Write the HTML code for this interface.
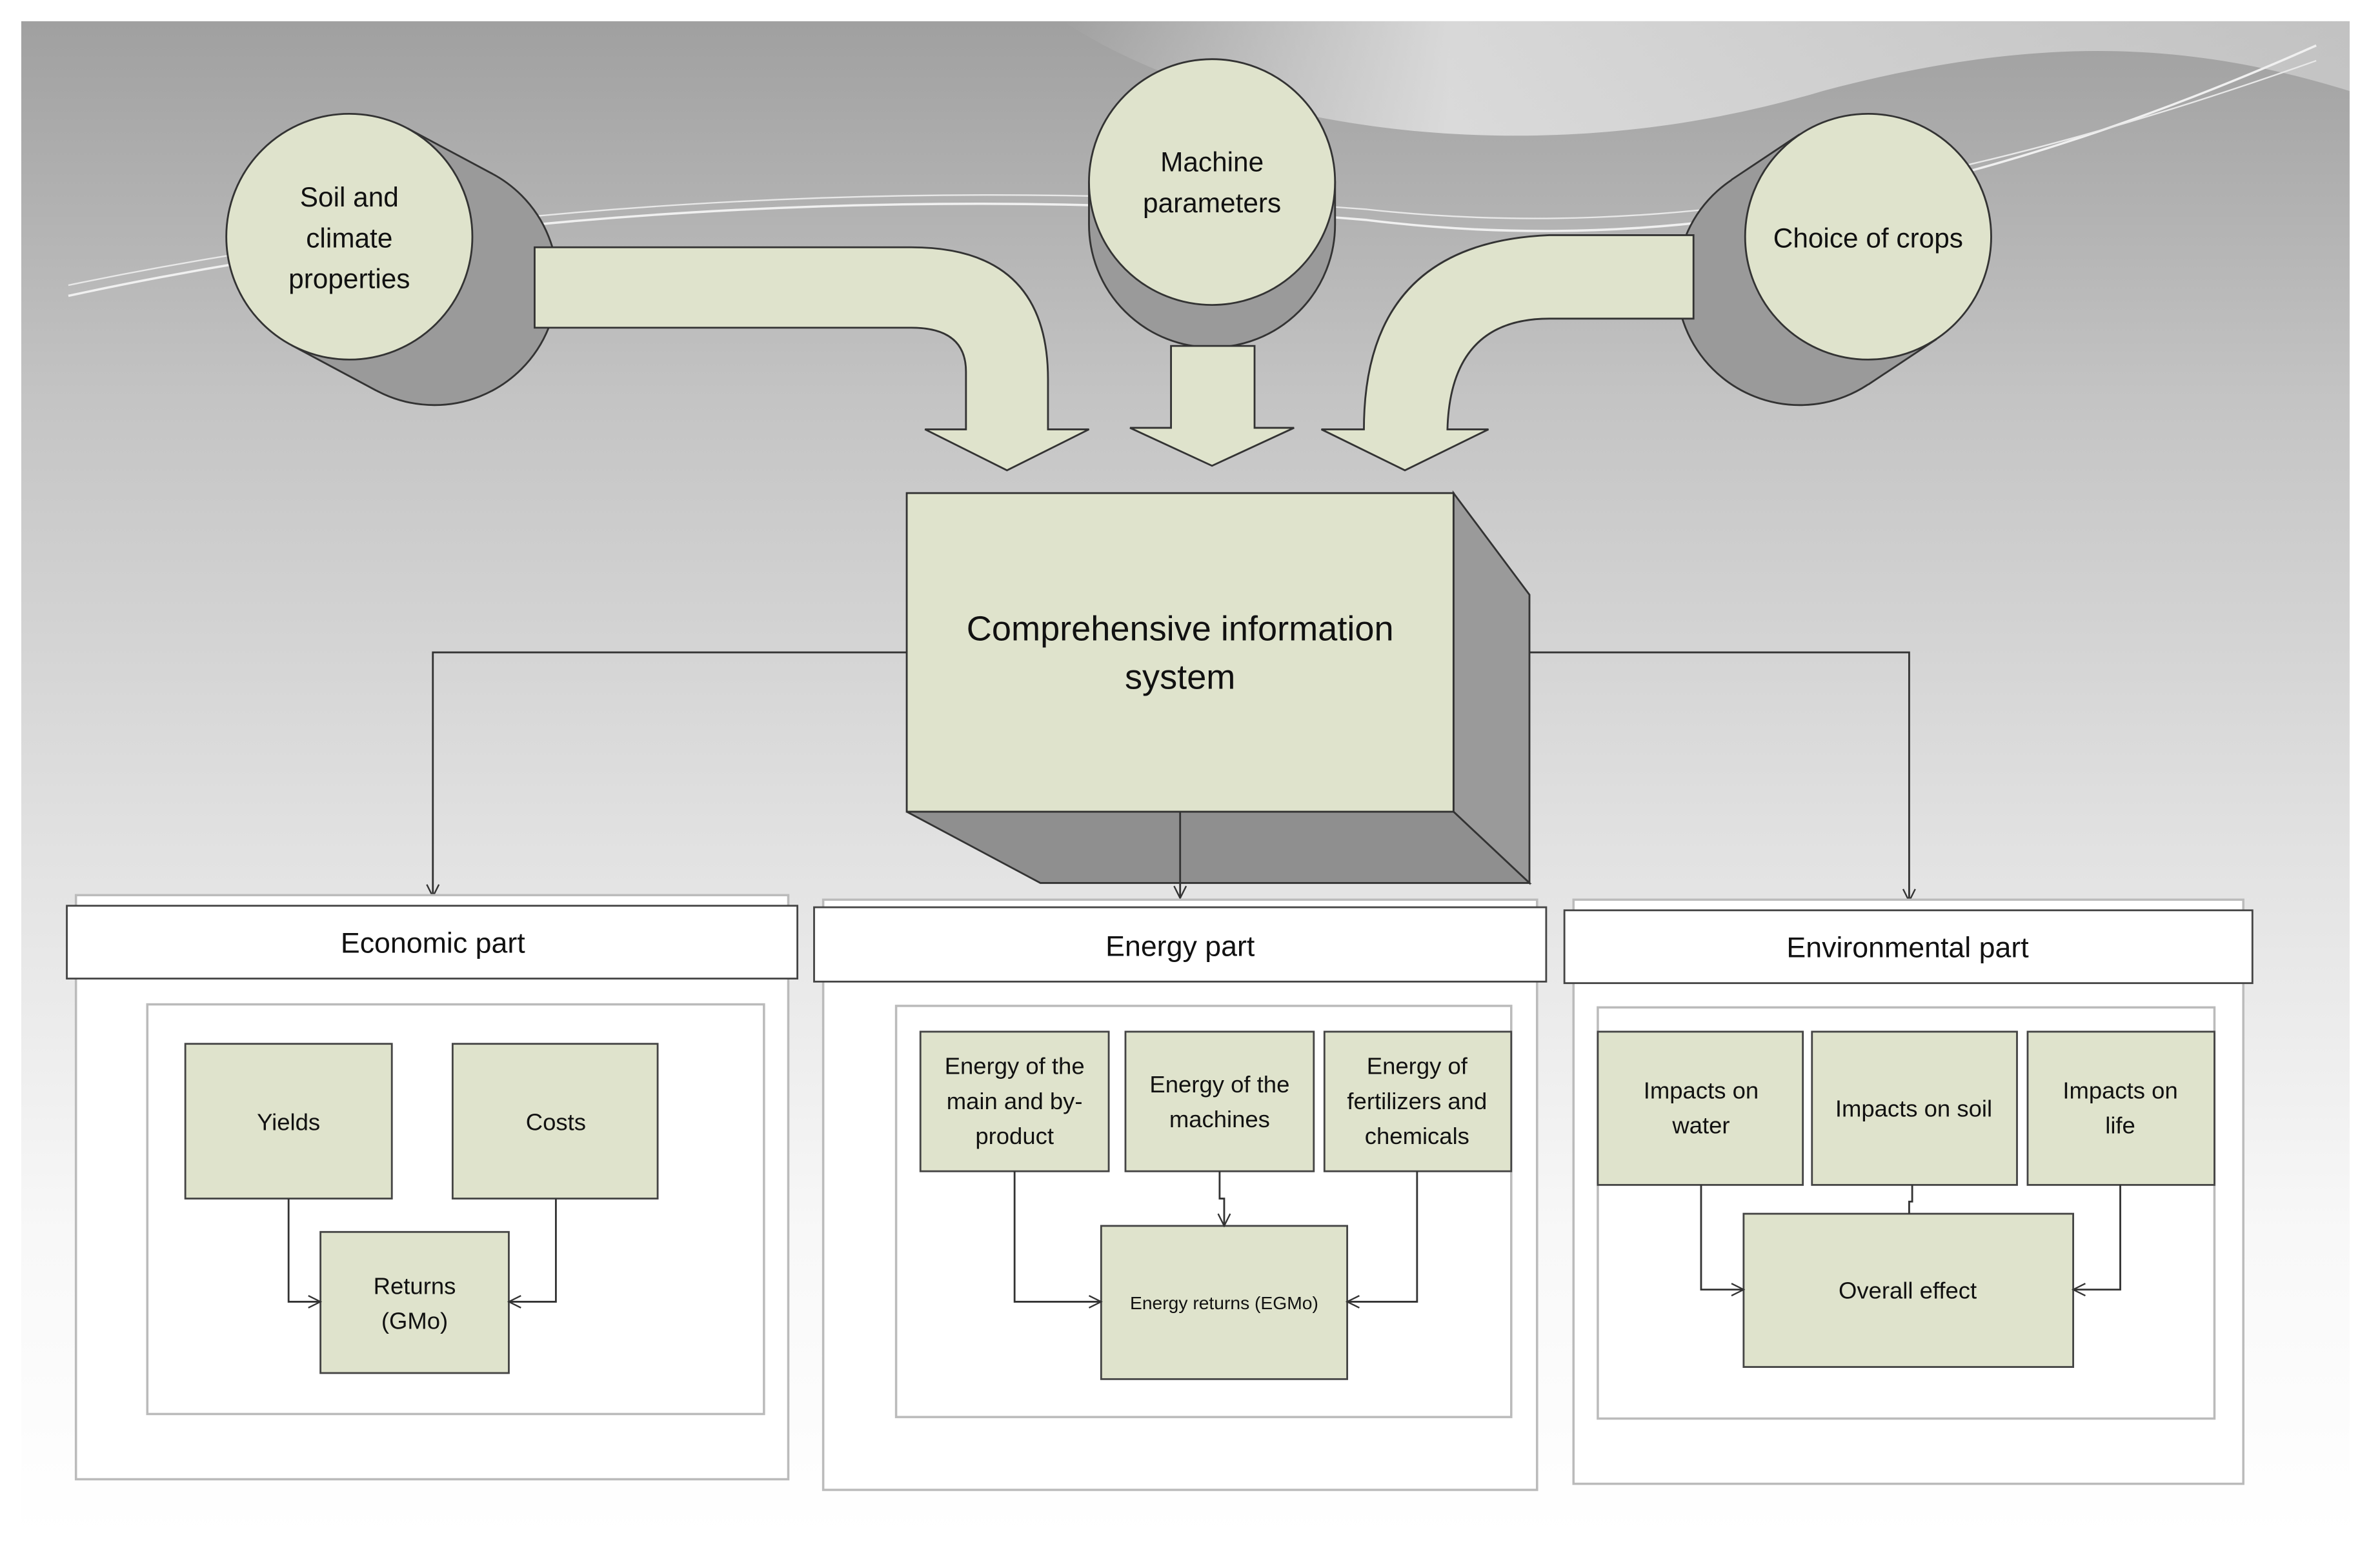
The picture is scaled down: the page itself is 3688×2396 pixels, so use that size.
<!DOCTYPE html>
<html><head><meta charset="utf-8"><style>
html,body{margin:0;padding:0;background:#fff}
svg{display:block}
text{font-family:"Liberation Sans",sans-serif;fill:#111}
</style></head><body>
<svg width="3688" height="2396" viewBox="0 0 1567 1019" preserveAspectRatio="none" xmlns="http://www.w3.org/2000/svg">
<defs>
<linearGradient id="bg" x1="0" y1="0" x2="0" y2="1">
<stop offset="0" stop-color="#a0a0a0"/>
<stop offset="0.25" stop-color="#c4c4c4"/>
<stop offset="0.55" stop-color="#e2e2e2"/>
<stop offset="0.8" stop-color="#f8f8f8"/>
<stop offset="1" stop-color="#ffffff"/>
</linearGradient>
<linearGradient id="wv" x1="0" y1="0" x2="1" y2="0">
<stop offset="0" stop-color="#e6e6e6" stop-opacity="0"/>
<stop offset="0.3" stop-color="#e6e6e6" stop-opacity="0.8"/>
<stop offset="1" stop-color="#d8d8d8" stop-opacity="0.6"/>
</linearGradient>
<marker id="ah" markerWidth="10" markerHeight="10" refX="9" refY="5" orient="auto" markerUnits="userSpaceOnUse">
<path d="M1,1 L9,5 L1,9" fill="none" stroke="#333" stroke-width="1"/>
</marker>
</defs>
<rect x="14" y="14" width="1533" height="999" fill="url(#bg)"/>
<path d="M700,14 C800,80 1000,120 1200,60 C1350,20 1450,30 1547,60 L1547,14 Z" fill="url(#wv)"/>
<path d="M45,195 C300,140 600,120 900,145 C1100,170 1300,130 1525,30" fill="none" stroke="#f0f0f0" stroke-width="1.5"/>
<path d="M45,188 C300,135 600,115 900,138 C1100,160 1300,120 1525,40" fill="none" stroke="#e8e8e8" stroke-width="1"/>

<!-- Soil cylinder -->
<g stroke="#333" stroke-width="1.2">
<circle cx="286" cy="186" r="81" fill="#9a9a9a"/>
<polygon points="191.7,227.4 268.3,84.6 324.3,114.6 247.7,257.4" fill="#9a9a9a" stroke="none"/>
<line x1="268.3" y1="84.6" x2="324.3" y2="114.6"/>
<line x1="191.7" y1="227.4" x2="247.7" y2="257.4"/>
<circle cx="230" cy="156" r="81" fill="#dfe3cc"/>
</g>
<text x="230" y="136" font-size="18" text-anchor="middle">Soil and</text>
<text x="230" y="163" font-size="18" text-anchor="middle">climate</text>
<text x="230" y="190" font-size="18" text-anchor="middle">properties</text>

<!-- Machine cylinder -->
<g stroke="#333" stroke-width="1.2">
<path d="M717,120 L717,148 A81,81 0 0 0 879,148 L879,120 Z" fill="#9a9a9a"/>
<circle cx="798" cy="120" r="81" fill="#dfe3cc"/>
</g>
<text x="798" y="113" font-size="18" text-anchor="middle">Machine</text>
<text x="798" y="140" font-size="18" text-anchor="middle">parameters</text>

<!-- Choice cylinder -->
<g stroke="#333" stroke-width="1.2">
<circle cx="1185" cy="186" r="81" fill="#9a9a9a"/>
<polygon points="1275,223.5 1185,88.5 1140,118.5 1230,253.5" fill="#9a9a9a" stroke="none"/>
<line x1="1185" y1="88.5" x2="1140" y2="118.5"/>
<line x1="1275" y1="223.5" x2="1230" y2="253.5"/>
<circle cx="1230" cy="156" r="81" fill="#dfe3cc"/>
</g>
<text x="1230" y="163" font-size="18" text-anchor="middle">Choice of crops</text>

<!-- Arrows -->
<g fill="#dfe3cc" stroke="#333" stroke-width="1.2">
<path d="M352,163 L600,163 Q690,163 690,250 L690,283 L717,283 L663,310 L609,283 L636,283 L636,245 Q636,216 600,216 L352,216 Z"/>
<path d="M771,228 L826,228 L826,282 L852,282 L798,307 L744,282 L771,282 Z"/>
<path d="M1115,155 L1020,155 Q898,160 898,283 L870,283 L925,310 L980,283 L953,283 Q955,210 1020,210 L1115,210 Z"/>
</g>

<!-- Connectors -->
<g stroke="#333" stroke-width="1.2" fill="none">
<path d="M597,430 L285,430 L285,591" marker-end="url(#ah)"/>
<path d="M957,430 L1257,430 L1257,594" marker-end="url(#ah)"/>
</g>

<!-- Main box -->
<g stroke="#333" stroke-width="1.2">
<path d="M957,325 L1007,392 L1007,582 L957,535 Z" fill="#9a9a9a"/>
<path d="M597,535 L685,582 L1007,582 L957,535 Z" fill="#8f8f8f"/>
<rect x="597" y="325" width="360" height="210" fill="#dfe3cc"/>
</g>
<path d="M777,535 L777,592" stroke="#333" stroke-width="1.2" fill="none" marker-end="url(#ah)"/>
<text x="777" y="422" font-size="23" text-anchor="middle">Comprehensive information</text>
<text x="777" y="454" font-size="23" text-anchor="middle">system</text>

<!-- Panels -->
<g fill="#fff" stroke="#bbb" stroke-width="1.5">
<rect x="50" y="590" width="469" height="385"/>
<rect x="542" y="593" width="470" height="389"/>
<rect x="1036" y="593" width="441" height="385"/>
</g>
<g fill="#fff" stroke="#444" stroke-width="1.2">
<rect x="44" y="597" width="481" height="48"/>
<rect x="536" y="598" width="482" height="49"/>
<rect x="1030" y="600" width="453" height="48"/>
</g>
<text x="285" y="628" font-size="19" text-anchor="middle">Economic part</text>
<text x="777" y="630" font-size="19" text-anchor="middle">Energy part</text>
<text x="1256" y="631" font-size="19" text-anchor="middle">Environmental part</text>
<g fill="#fff" stroke="#bbb" stroke-width="1.5">
<rect x="97" y="662" width="406" height="270"/>
<rect x="590" y="663" width="405" height="271"/>
<rect x="1052" y="664" width="406" height="271"/>
</g>

<g fill="#dfe3cc" stroke="#444" stroke-width="1.2">
<rect x="122" y="688" width="136" height="102"/>
<rect x="298" y="688" width="135" height="102"/>
<rect x="211" y="812" width="124" height="93"/>
<rect x="606" y="680" width="124" height="92"/>
<rect x="741" y="680" width="124" height="92"/>
<rect x="872" y="680" width="123" height="92"/>
<rect x="725" y="808" width="162" height="101"/>
<rect x="1052" y="680" width="135" height="101"/>
<rect x="1193" y="680" width="135" height="101"/>
<rect x="1335" y="680" width="123" height="101"/>
<rect x="1148" y="800" width="217" height="101"/>
</g>
<g stroke="#333" stroke-width="1.2" fill="none">
<path d="M190,790 L190,858 L211,858" marker-end="url(#ah)"/>
<path d="M366,790 L366,858 L335,858" marker-end="url(#ah)"/>
<path d="M668,772 L668,858 L725,858" marker-end="url(#ah)"/>
<path d="M803,772 L803,790 L806,790 L806,808" marker-end="url(#ah)"/>
<path d="M933,772 L933,858 L887,858" marker-end="url(#ah)"/>
<path d="M1120,781 L1120,850 L1148,850" marker-end="url(#ah)"/>
<path d="M1396,781 L1396,850 L1365,850" marker-end="url(#ah)"/>
<path d="M1259,781 L1259,792 L1257,792 L1257,800"/>
</g>
<g font-size="15.5" text-anchor="middle">
<text x="190" y="745">Yields</text>
<text x="366" y="745">Costs</text>
<text x="273" y="853">Returns</text>
<text x="273" y="876">(GMo)</text>
<text x="668" y="708">Energy of the</text>
<text x="668" y="731">main and by-</text>
<text x="668" y="754">product</text>
<text x="803" y="720">Energy of the</text>
<text x="803" y="743">machines</text>
<text x="933" y="708">Energy of</text>
<text x="933" y="731">fertilizers and</text>
<text x="933" y="754">chemicals</text>
<text x="806" y="863" font-size="12">Energy returns (EGMo)</text>
<text x="1120" y="724">Impacts on</text>
<text x="1120" y="747">water</text>
<text x="1260" y="736">Impacts on soil</text>
<text x="1396" y="724">Impacts on</text>
<text x="1396" y="747">life</text>
<text x="1256" y="856">Overall effect</text>
</g>
</svg>
</body></html>
